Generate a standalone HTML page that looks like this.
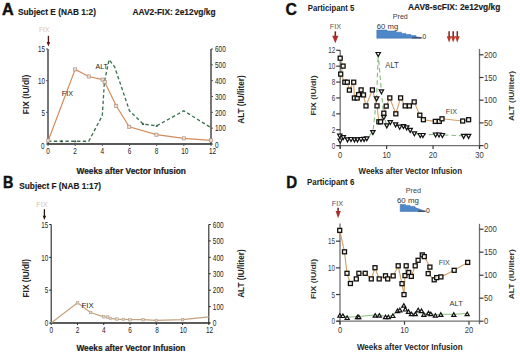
<!DOCTYPE html>
<html><head><meta charset="utf-8"><style>
html,body{margin:0;padding:0;background:#fff;width:520px;height:354px;overflow:hidden}
svg{display:block;font-family:"Liberation Sans", sans-serif}
</style></head><body>
<svg width="520" height="354" viewBox="0 0 520 354" font-family='"Liberation Sans", sans-serif'>
<rect width="520" height="354" fill="#fff"/>
<text x="2.1" y="14.6" font-size="16.5" font-weight="bold" fill="#111" text-anchor="start" textLength="11.7" lengthAdjust="spacingAndGlyphs" stroke="#111" stroke-width="0.5">A</text>
<text x="18" y="15.1" font-size="8.4" font-weight="bold" fill="#1a1a1a" text-anchor="start" textLength="78" lengthAdjust="spacingAndGlyphs" stroke="#1a1a1a" stroke-width="0.15">Subject E (NAB 1:2)</text>
<text x="132.5" y="15.2" font-size="8.4" font-weight="bold" fill="#1a1a1a" text-anchor="start" textLength="83" lengthAdjust="spacingAndGlyphs" stroke="#1a1a1a" stroke-width="0.15">AAV2-FIX: 2e12vg/kg</text>
<text x="39" y="31.9" font-size="6.3" font-weight="normal" fill="#e2bf9c" text-anchor="start" textLength="10.4" lengthAdjust="spacingAndGlyphs" >FIX</text>
<line x1="48.4" y1="35.8" x2="48.4" y2="44" stroke="#5a1018" stroke-width="1.3" />
<polygon points="46.6,42 50.2,42 48.4,46.6" fill="#6a1218"/>
<line x1="48" y1="49" x2="48" y2="144.5" stroke="#555" stroke-width="1.6" />
<line x1="211" y1="49" x2="211" y2="144.5" stroke="#555" stroke-width="1.6" />
<line x1="47.4" y1="144" x2="211.6" y2="144" stroke="#222" stroke-width="1.5" />
<line x1="46" y1="144.0" x2="48" y2="144.0" stroke="#555" stroke-width="1" />
<text x="44.6" y="148.6" font-size="8.3" font-weight="normal" fill="#1a1a1a" text-anchor="end" textLength="3.5" lengthAdjust="spacingAndGlyphs" >0</text>
<line x1="46" y1="112.33333333333333" x2="48" y2="112.33333333333333" stroke="#555" stroke-width="1" />
<text x="45" y="115.73333333333333" font-size="8.3" font-weight="normal" fill="#1a1a1a" text-anchor="end" textLength="3.5" lengthAdjust="spacingAndGlyphs" >5</text>
<line x1="46" y1="80.66666666666666" x2="48" y2="80.66666666666666" stroke="#555" stroke-width="1" />
<text x="45" y="84.06666666666666" font-size="8.3" font-weight="normal" fill="#1a1a1a" text-anchor="end" textLength="7.0" lengthAdjust="spacingAndGlyphs" >10</text>
<line x1="46" y1="49.0" x2="48" y2="49.0" stroke="#555" stroke-width="1" />
<text x="45" y="52.4" font-size="8.3" font-weight="normal" fill="#1a1a1a" text-anchor="end" textLength="7.0" lengthAdjust="spacingAndGlyphs" >15</text>
<line x1="211" y1="144.0" x2="213" y2="144.0" stroke="#555" stroke-width="1" />
<text x="215" y="148.29999999999998" font-size="8.200000000000001" font-weight="normal" fill="#1a1a1a" text-anchor="start" textLength="3.6" lengthAdjust="spacingAndGlyphs" >0</text>
<line x1="211" y1="128.16666666666666" x2="213" y2="128.16666666666666" stroke="#555" stroke-width="1" />
<text x="215" y="131.36666666666665" font-size="8.200000000000001" font-weight="normal" fill="#1a1a1a" text-anchor="start" textLength="10.8" lengthAdjust="spacingAndGlyphs" >100</text>
<line x1="211" y1="112.33333333333333" x2="213" y2="112.33333333333333" stroke="#555" stroke-width="1" />
<text x="215" y="115.53333333333333" font-size="8.200000000000001" font-weight="normal" fill="#1a1a1a" text-anchor="start" textLength="10.8" lengthAdjust="spacingAndGlyphs" >200</text>
<line x1="211" y1="96.5" x2="213" y2="96.5" stroke="#555" stroke-width="1" />
<text x="215" y="99.7" font-size="8.200000000000001" font-weight="normal" fill="#1a1a1a" text-anchor="start" textLength="10.8" lengthAdjust="spacingAndGlyphs" >300</text>
<line x1="211" y1="80.66666666666666" x2="213" y2="80.66666666666666" stroke="#555" stroke-width="1" />
<text x="215" y="83.86666666666666" font-size="8.200000000000001" font-weight="normal" fill="#1a1a1a" text-anchor="start" textLength="10.8" lengthAdjust="spacingAndGlyphs" >400</text>
<line x1="211" y1="64.83333333333333" x2="213" y2="64.83333333333333" stroke="#555" stroke-width="1" />
<text x="215" y="68.03333333333333" font-size="8.200000000000001" font-weight="normal" fill="#1a1a1a" text-anchor="start" textLength="10.8" lengthAdjust="spacingAndGlyphs" >500</text>
<line x1="211" y1="49.0" x2="213" y2="49.0" stroke="#555" stroke-width="1" />
<text x="215" y="52.2" font-size="8.200000000000001" font-weight="normal" fill="#1a1a1a" text-anchor="start" textLength="10.8" lengthAdjust="spacingAndGlyphs" >600</text>
<line x1="48.0" y1="144" x2="48.0" y2="146" stroke="#555" stroke-width="1" />
<text x="48.0" y="154.4" font-size="8.200000000000001" font-weight="normal" fill="#1a1a1a" text-anchor="middle" textLength="3.6" lengthAdjust="spacingAndGlyphs" >0</text>
<line x1="75.16666666666667" y1="144" x2="75.16666666666667" y2="146" stroke="#555" stroke-width="1" />
<text x="75.16666666666667" y="154.4" font-size="8.200000000000001" font-weight="normal" fill="#1a1a1a" text-anchor="middle" textLength="3.6" lengthAdjust="spacingAndGlyphs" >2</text>
<line x1="102.33333333333334" y1="144" x2="102.33333333333334" y2="146" stroke="#555" stroke-width="1" />
<text x="102.33333333333334" y="154.4" font-size="8.200000000000001" font-weight="normal" fill="#1a1a1a" text-anchor="middle" textLength="3.6" lengthAdjust="spacingAndGlyphs" >4</text>
<line x1="129.5" y1="144" x2="129.5" y2="146" stroke="#555" stroke-width="1" />
<text x="129.5" y="154.4" font-size="8.200000000000001" font-weight="normal" fill="#1a1a1a" text-anchor="middle" textLength="3.6" lengthAdjust="spacingAndGlyphs" >6</text>
<line x1="156.66666666666669" y1="144" x2="156.66666666666669" y2="146" stroke="#555" stroke-width="1" />
<text x="156.66666666666669" y="154.4" font-size="8.200000000000001" font-weight="normal" fill="#1a1a1a" text-anchor="middle" textLength="3.6" lengthAdjust="spacingAndGlyphs" >8</text>
<line x1="183.83333333333334" y1="144" x2="183.83333333333334" y2="146" stroke="#555" stroke-width="1" />
<text x="184.83333333333334" y="154.4" font-size="8.200000000000001" font-weight="normal" fill="#1a1a1a" text-anchor="middle" textLength="7.2" lengthAdjust="spacingAndGlyphs" >10</text>
<line x1="211.0" y1="144" x2="211.0" y2="146" stroke="#555" stroke-width="1" />
<text x="212.5" y="154.4" font-size="8.200000000000001" font-weight="normal" fill="#1a1a1a" text-anchor="middle" textLength="7.2" lengthAdjust="spacingAndGlyphs" >12</text>
<text x="76.4" y="174.3" font-size="8.8" font-weight="bold" fill="#1a1a1a" text-anchor="start" textLength="109.6" lengthAdjust="spacingAndGlyphs" stroke="#1a1a1a" stroke-width="0.2">Weeks after Vector Infusion</text>
<text transform="translate(28.5,94.5) rotate(-90)" font-size="8.3" font-weight="bold" fill="#222" text-anchor="middle" textLength="39.5" lengthAdjust="spacingAndGlyphs">FIX (IU/dl)</text>
<text transform="translate(244.2,99.5) rotate(-90)" font-size="8.3" font-weight="bold" fill="#222" text-anchor="middle" textLength="48.3" lengthAdjust="spacingAndGlyphs">ALT (IU/liter)</text>
<polyline points="48.0,141.2 61.6,141.2 75.2,141.2 88.8,141.2 102.3,115.5 104.4,81.9 109.1,59.6 114.7,67.0 129.5,110.8 143.1,124.0 156.7,125.8 183.8,110.8 211.0,127.7" fill="none" stroke="#3d7352" stroke-width="1.35" stroke-dasharray="3.4,2.4"/>
<polygon points="60.3,142.2 62.9,142.2 61.6,139.8" fill="#34503f"/>
<polygon points="73.9,142.2 76.5,142.2 75.2,139.8" fill="#34503f"/>
<polygon points="141.8,125.0 144.4,125.0 143.1,122.6" fill="#34503f"/>
<polygon points="155.4,126.8 158.0,126.8 156.7,124.4" fill="#34503f"/>
<polyline points="48.3,140.5 75.2,69.4 88.7,76.5 102.6,79.6 104.7,82.1 116.2,105.8 129.2,126.8 156.4,134.7 183.8,138.4 210.8,140.4" fill="none" stroke="#d48c5c" stroke-width="1.2" />
<rect x="46.7" y="138.9" width="3.2" height="3.2" fill="#eadbd2" stroke="#a88878" stroke-width="0.6"/>
<rect x="73.6" y="67.8" width="3.2" height="3.2" fill="#eadbd2" stroke="#a88878" stroke-width="0.6"/>
<rect x="87.1" y="74.9" width="3.2" height="3.2" fill="#eadbd2" stroke="#a88878" stroke-width="0.6"/>
<rect x="101.0" y="78.0" width="3.2" height="3.2" fill="#eadbd2" stroke="#a88878" stroke-width="0.6"/>
<rect x="103.1" y="80.5" width="3.2" height="3.2" fill="#eadbd2" stroke="#a88878" stroke-width="0.6"/>
<rect x="114.6" y="104.2" width="3.2" height="3.2" fill="#eadbd2" stroke="#a88878" stroke-width="0.6"/>
<rect x="127.6" y="125.2" width="3.2" height="3.2" fill="#eadbd2" stroke="#a88878" stroke-width="0.6"/>
<rect x="154.8" y="133.1" width="3.2" height="3.2" fill="#eadbd2" stroke="#a88878" stroke-width="0.6"/>
<rect x="182.2" y="136.8" width="3.2" height="3.2" fill="#eadbd2" stroke="#a88878" stroke-width="0.6"/>
<rect x="209.2" y="138.8" width="3.2" height="3.2" fill="#eadbd2" stroke="#a88878" stroke-width="0.6"/>
<text x="61.8" y="96" font-size="7" font-weight="normal" fill="#1a1a1a" text-anchor="start" textLength="11.2" lengthAdjust="spacingAndGlyphs" >FIX</text>
<text x="95.6" y="69.3" font-size="7.2" font-weight="normal" fill="#1a1a1a" text-anchor="start" textLength="12.3" lengthAdjust="spacingAndGlyphs" >ALT</text>
<text x="2.9" y="188.2" font-size="17" font-weight="bold" fill="#111" text-anchor="start" textLength="10.4" lengthAdjust="spacingAndGlyphs" stroke="#111" stroke-width="0.5">B</text>
<text x="19.3" y="189.4" font-size="8.4" font-weight="bold" fill="#1a1a1a" text-anchor="start" textLength="81.7" lengthAdjust="spacingAndGlyphs" stroke="#1a1a1a" stroke-width="0.15">Subject F (NAB 1:17)</text>
<text x="36.3" y="206.9" font-size="6.6" font-weight="normal" fill="#d2c6b2" text-anchor="start" textLength="11.5" lengthAdjust="spacingAndGlyphs" >FIX</text>
<line x1="44.4" y1="209.2" x2="44.4" y2="217" stroke="#2a1810" stroke-width="1.3" />
<polygon points="42.7,215.8 46.1,215.8 44.4,220" fill="#2a1810"/>
<line x1="51.2" y1="224.5" x2="51.2" y2="323.5" stroke="#262626" stroke-width="1.1" />
<line x1="208.8" y1="224.5" x2="208.8" y2="323.5" stroke="#262626" stroke-width="1.1" />
<line x1="50.6" y1="323" x2="209.4" y2="323" stroke="#262626" stroke-width="1.3" />
<line x1="49.2" y1="323.0" x2="51.2" y2="323.0" stroke="#262626" stroke-width="1" />
<text x="48.2" y="326.2" font-size="8.9" font-weight="normal" fill="#1a1a1a" text-anchor="end" textLength="3.5" lengthAdjust="spacingAndGlyphs" >0</text>
<line x1="49.2" y1="290.1666666666667" x2="51.2" y2="290.1666666666667" stroke="#262626" stroke-width="1" />
<text x="48.2" y="293.3666666666667" font-size="8.9" font-weight="normal" fill="#1a1a1a" text-anchor="end" textLength="3.5" lengthAdjust="spacingAndGlyphs" >5</text>
<line x1="49.2" y1="257.3333333333333" x2="51.2" y2="257.3333333333333" stroke="#262626" stroke-width="1" />
<text x="48.2" y="260.5333333333333" font-size="8.9" font-weight="normal" fill="#1a1a1a" text-anchor="end" textLength="7.0" lengthAdjust="spacingAndGlyphs" >10</text>
<line x1="49.2" y1="224.5" x2="51.2" y2="224.5" stroke="#262626" stroke-width="1" />
<text x="48.2" y="227.7" font-size="8.9" font-weight="normal" fill="#1a1a1a" text-anchor="end" textLength="7.0" lengthAdjust="spacingAndGlyphs" >15</text>
<line x1="208.8" y1="323.0" x2="210.8" y2="323.0" stroke="#262626" stroke-width="1" />
<text x="212.8" y="326.2" font-size="8.9" font-weight="normal" fill="#1a1a1a" text-anchor="start" textLength="3.6" lengthAdjust="spacingAndGlyphs" >0</text>
<line x1="208.8" y1="306.5833333333333" x2="210.8" y2="306.5833333333333" stroke="#262626" stroke-width="1" />
<text x="212.8" y="309.7833333333333" font-size="8.9" font-weight="normal" fill="#1a1a1a" text-anchor="start" textLength="10.8" lengthAdjust="spacingAndGlyphs" >100</text>
<line x1="208.8" y1="290.1666666666667" x2="210.8" y2="290.1666666666667" stroke="#262626" stroke-width="1" />
<text x="212.8" y="293.3666666666667" font-size="8.9" font-weight="normal" fill="#1a1a1a" text-anchor="start" textLength="10.8" lengthAdjust="spacingAndGlyphs" >200</text>
<line x1="208.8" y1="273.75" x2="210.8" y2="273.75" stroke="#262626" stroke-width="1" />
<text x="212.8" y="276.95" font-size="8.9" font-weight="normal" fill="#1a1a1a" text-anchor="start" textLength="10.8" lengthAdjust="spacingAndGlyphs" >300</text>
<line x1="208.8" y1="257.3333333333333" x2="210.8" y2="257.3333333333333" stroke="#262626" stroke-width="1" />
<text x="212.8" y="260.5333333333333" font-size="8.9" font-weight="normal" fill="#1a1a1a" text-anchor="start" textLength="10.8" lengthAdjust="spacingAndGlyphs" >400</text>
<line x1="208.8" y1="240.91666666666669" x2="210.8" y2="240.91666666666669" stroke="#262626" stroke-width="1" />
<text x="212.8" y="244.11666666666667" font-size="8.9" font-weight="normal" fill="#1a1a1a" text-anchor="start" textLength="10.8" lengthAdjust="spacingAndGlyphs" >500</text>
<line x1="208.8" y1="224.5" x2="210.8" y2="224.5" stroke="#262626" stroke-width="1" />
<text x="212.8" y="227.7" font-size="8.9" font-weight="normal" fill="#1a1a1a" text-anchor="start" textLength="10.8" lengthAdjust="spacingAndGlyphs" >600</text>
<line x1="51.2" y1="323" x2="51.2" y2="325" stroke="#262626" stroke-width="1" />
<text x="51.2" y="333.4" font-size="8.9" font-weight="normal" fill="#1a1a1a" text-anchor="middle" textLength="3.6" lengthAdjust="spacingAndGlyphs" >0</text>
<line x1="77.46666666666667" y1="323" x2="77.46666666666667" y2="325" stroke="#262626" stroke-width="1" />
<text x="77.46666666666667" y="333.4" font-size="8.9" font-weight="normal" fill="#1a1a1a" text-anchor="middle" textLength="3.6" lengthAdjust="spacingAndGlyphs" >2</text>
<line x1="103.73333333333335" y1="323" x2="103.73333333333335" y2="325" stroke="#262626" stroke-width="1" />
<text x="103.73333333333335" y="333.4" font-size="8.9" font-weight="normal" fill="#1a1a1a" text-anchor="middle" textLength="3.6" lengthAdjust="spacingAndGlyphs" >4</text>
<line x1="130.0" y1="323" x2="130.0" y2="325" stroke="#262626" stroke-width="1" />
<text x="130.0" y="333.4" font-size="8.9" font-weight="normal" fill="#1a1a1a" text-anchor="middle" textLength="3.6" lengthAdjust="spacingAndGlyphs" >6</text>
<line x1="156.26666666666668" y1="323" x2="156.26666666666668" y2="325" stroke="#262626" stroke-width="1" />
<text x="157.0666666666667" y="333.4" font-size="8.9" font-weight="normal" fill="#1a1a1a" text-anchor="middle" textLength="3.6" lengthAdjust="spacingAndGlyphs" >8</text>
<line x1="182.53333333333336" y1="323" x2="182.53333333333336" y2="325" stroke="#262626" stroke-width="1" />
<text x="183.33333333333337" y="333.4" font-size="8.9" font-weight="normal" fill="#1a1a1a" text-anchor="middle" textLength="7.2" lengthAdjust="spacingAndGlyphs" >10</text>
<line x1="208.8" y1="323" x2="208.8" y2="325" stroke="#262626" stroke-width="1" />
<text x="209.60000000000002" y="333.4" font-size="8.9" font-weight="normal" fill="#1a1a1a" text-anchor="middle" textLength="7.2" lengthAdjust="spacingAndGlyphs" >12</text>
<text x="76.4" y="350.6" font-size="8.6" font-weight="bold" fill="#1a1a1a" text-anchor="start" textLength="109" lengthAdjust="spacingAndGlyphs" stroke="#1a1a1a" stroke-width="0.2">Weeks after Vector Infusion</text>
<text transform="translate(28.7,278.2) rotate(-90)" font-size="8.3" font-weight="bold" fill="#222" text-anchor="middle" textLength="38.5" lengthAdjust="spacingAndGlyphs">FIX (IU/dl)</text>
<text transform="translate(244.0,273.6) rotate(-90)" font-size="8.3" font-weight="bold" fill="#222" text-anchor="middle" textLength="48.4" lengthAdjust="spacingAndGlyphs">ALT (IU/liter)</text>
<polyline points="51.2,323.0 77.5,302.8 90.6,312.5 103.7,316.8 107.7,317.1 110.3,318.4 116.9,319.1 123.4,319.4 130.0,319.7 143.1,319.7 156.3,320.4 182.5,319.7 208.8,316.8" fill="none" stroke="#c4a27e" stroke-width="1.2" />
<rect x="76.2" y="301.5" width="2.6" height="2.6" fill="#e2d6ca" stroke="#ac9682" stroke-width="0.5"/>
<rect x="89.3" y="311.2" width="2.6" height="2.6" fill="#e2d6ca" stroke="#ac9682" stroke-width="0.5"/>
<rect x="102.4" y="315.5" width="2.6" height="2.6" fill="#e2d6ca" stroke="#ac9682" stroke-width="0.5"/>
<rect x="106.4" y="315.8" width="2.6" height="2.6" fill="#e2d6ca" stroke="#ac9682" stroke-width="0.5"/>
<rect x="109.0" y="317.1" width="2.6" height="2.6" fill="#e2d6ca" stroke="#ac9682" stroke-width="0.5"/>
<rect x="115.6" y="317.8" width="2.6" height="2.6" fill="#e2d6ca" stroke="#ac9682" stroke-width="0.5"/>
<rect x="122.1" y="318.1" width="2.6" height="2.6" fill="#e2d6ca" stroke="#ac9682" stroke-width="0.5"/>
<rect x="128.7" y="318.4" width="2.6" height="2.6" fill="#e2d6ca" stroke="#ac9682" stroke-width="0.5"/>
<rect x="141.8" y="318.4" width="2.6" height="2.6" fill="#e2d6ca" stroke="#ac9682" stroke-width="0.5"/>
<rect x="155.0" y="319.1" width="2.6" height="2.6" fill="#e2d6ca" stroke="#ac9682" stroke-width="0.5"/>
<rect x="181.2" y="318.4" width="2.6" height="2.6" fill="#e2d6ca" stroke="#ac9682" stroke-width="0.5"/>
<text x="81.6" y="307.9" font-size="7.1" font-weight="normal" fill="#1a1a1a" text-anchor="start" textLength="12.1" lengthAdjust="spacingAndGlyphs" >FIX</text>
<text x="285.6" y="14.6" font-size="16.8" font-weight="bold" fill="#111" text-anchor="start" textLength="11.4" lengthAdjust="spacingAndGlyphs" stroke="#111" stroke-width="0.4">C</text>
<text x="307.8" y="10.9" font-size="8.6" font-weight="bold" fill="#1a1a1a" text-anchor="start" textLength="46.4" lengthAdjust="spacingAndGlyphs" >Participant 5</text>
<text x="408.1" y="10.4" font-size="8.4" font-weight="bold" fill="#1a1a1a" text-anchor="start" textLength="92.2" lengthAdjust="spacingAndGlyphs" stroke="#1a1a1a" stroke-width="0.15">AAV8-scFIX: 2e12vg/kg</text>
<text x="329.7" y="28.8" font-size="7.2" font-weight="normal" fill="#5a5a5a" text-anchor="start" textLength="11.4" lengthAdjust="spacingAndGlyphs" >FIX</text>
<line x1="335.3" y1="31.4" x2="335.3" y2="37" stroke="#7a2020" stroke-width="1.6" />
<polygon points="332.2,35.8 338.4,35.8 335.3,43.3" fill="#b03028"/>
<text x="392.8" y="19" font-size="7.4" font-weight="normal" fill="#3a3a3a" text-anchor="start" textLength="15" lengthAdjust="spacingAndGlyphs" >Pred</text>
<text x="376.8" y="28.8" font-size="7.6" font-weight="normal" fill="#333" text-anchor="start" textLength="21.5" lengthAdjust="spacingAndGlyphs" >60 mg</text>
<polygon points="376.8,30 387,30 387,31 396,31 396,32.2 401.4,32.2 401.4,33.4 406,33.4 406,34.5 411,34.5 411,35.6 416,35.6 416,36.8 421,37.6 421,38.2 376.8,38.2" fill="#4f88c8" stroke="#3a6aa8" stroke-width="0.5"/>
<line x1="412" y1="37.9" x2="422.5" y2="37.9" stroke="#223" stroke-width="0.8" />
<text x="422.6" y="38.6" font-size="7" font-weight="normal" fill="#222" text-anchor="start" textLength="3.6" lengthAdjust="spacingAndGlyphs" >0</text>
<line x1="449.1" y1="31.2" x2="449.1" y2="38" stroke="#7a2020" stroke-width="1.5" />
<line x1="453.2" y1="31.2" x2="453.2" y2="38" stroke="#7a2020" stroke-width="1.5" />
<line x1="457.3" y1="31.2" x2="457.3" y2="38" stroke="#7a2020" stroke-width="1.5" />
<polygon points="446.7,36.2 451.5,36.2 449.1,42.6" fill="#bb3a2e"/>
<polygon points="450.8,36.2 455.6,36.2 453.2,42.6" fill="#bb3a2e"/>
<polygon points="454.9,36.2 459.7,36.2 457.3,42.6" fill="#bb3a2e"/>
<line x1="340.2" y1="50.3" x2="340.2" y2="148.6" stroke="#707070" stroke-width="1.3" />
<line x1="337.2" y1="145.6" x2="479.5" y2="145.6" stroke="#707070" stroke-width="1.3" />
<line x1="479.5" y1="48.9" x2="479.5" y2="148.6" stroke="#707070" stroke-width="1.3" />
<line x1="336.2" y1="145.6" x2="340.2" y2="145.6" stroke="#383838" stroke-width="1.2" />
<text x="335.3" y="148.6" font-size="8.7" font-weight="normal" fill="#383838" text-anchor="end" textLength="3.5" lengthAdjust="spacingAndGlyphs" >0</text>
<line x1="336.2" y1="129.71666666666667" x2="340.2" y2="129.71666666666667" stroke="#383838" stroke-width="1.2" />
<text x="335.3" y="132.71666666666667" font-size="8.7" font-weight="normal" fill="#383838" text-anchor="end" textLength="3.5" lengthAdjust="spacingAndGlyphs" >2</text>
<line x1="336.2" y1="113.83333333333333" x2="340.2" y2="113.83333333333333" stroke="#383838" stroke-width="1.2" />
<text x="335.3" y="116.83333333333333" font-size="8.7" font-weight="normal" fill="#383838" text-anchor="end" textLength="3.5" lengthAdjust="spacingAndGlyphs" >4</text>
<line x1="336.2" y1="97.94999999999999" x2="340.2" y2="97.94999999999999" stroke="#383838" stroke-width="1.2" />
<text x="335.3" y="100.94999999999999" font-size="8.7" font-weight="normal" fill="#383838" text-anchor="end" textLength="3.5" lengthAdjust="spacingAndGlyphs" >6</text>
<line x1="336.2" y1="82.06666666666666" x2="340.2" y2="82.06666666666666" stroke="#383838" stroke-width="1.2" />
<text x="335.3" y="85.06666666666666" font-size="8.7" font-weight="normal" fill="#383838" text-anchor="end" textLength="3.5" lengthAdjust="spacingAndGlyphs" >8</text>
<line x1="336.2" y1="66.18333333333332" x2="340.2" y2="66.18333333333332" stroke="#383838" stroke-width="1.2" />
<text x="335.3" y="69.18333333333332" font-size="8.7" font-weight="normal" fill="#383838" text-anchor="end" textLength="7.0" lengthAdjust="spacingAndGlyphs" >10</text>
<line x1="336.2" y1="50.3" x2="340.2" y2="50.3" stroke="#383838" stroke-width="1.2" />
<text x="335.3" y="53.3" font-size="8.7" font-weight="normal" fill="#383838" text-anchor="end" textLength="7.0" lengthAdjust="spacingAndGlyphs" >12</text>
<line x1="479.5" y1="145.6" x2="483.5" y2="145.6" stroke="#383838" stroke-width="1.2" />
<text x="484.0" y="148.6" font-size="8.4" font-weight="normal" fill="#383838" text-anchor="start" textLength="4.3" lengthAdjust="spacingAndGlyphs" >0</text>
<line x1="479.5" y1="122.89999999999999" x2="483.5" y2="122.89999999999999" stroke="#383838" stroke-width="1.2" />
<text x="484.0" y="125.89999999999999" font-size="8.4" font-weight="normal" fill="#383838" text-anchor="start" textLength="8.6" lengthAdjust="spacingAndGlyphs" >50</text>
<line x1="479.5" y1="100.19999999999999" x2="483.5" y2="100.19999999999999" stroke="#383838" stroke-width="1.2" />
<text x="484.0" y="103.19999999999999" font-size="8.4" font-weight="normal" fill="#383838" text-anchor="start" textLength="12.899999999999999" lengthAdjust="spacingAndGlyphs" >100</text>
<line x1="479.5" y1="77.5" x2="483.5" y2="77.5" stroke="#383838" stroke-width="1.2" />
<text x="484.0" y="80.5" font-size="8.4" font-weight="normal" fill="#383838" text-anchor="start" textLength="12.899999999999999" lengthAdjust="spacingAndGlyphs" >150</text>
<line x1="479.5" y1="54.8" x2="483.5" y2="54.8" stroke="#383838" stroke-width="1.2" />
<text x="484.0" y="57.8" font-size="8.4" font-weight="normal" fill="#383838" text-anchor="start" textLength="12.899999999999999" lengthAdjust="spacingAndGlyphs" >200</text>
<line x1="340.2" y1="145.6" x2="340.2" y2="149.1" stroke="#383838" stroke-width="1.2" />
<text x="340.2" y="157.79999999999998" font-size="8.2" font-weight="normal" fill="#383838" text-anchor="middle" textLength="4.2" lengthAdjust="spacingAndGlyphs" >0</text>
<line x1="386.6333333333333" y1="145.6" x2="386.6333333333333" y2="149.1" stroke="#383838" stroke-width="1.2" />
<text x="386.6333333333333" y="157.79999999999998" font-size="8.2" font-weight="normal" fill="#383838" text-anchor="middle" textLength="8.4" lengthAdjust="spacingAndGlyphs" >10</text>
<line x1="433.06666666666666" y1="145.6" x2="433.06666666666666" y2="149.1" stroke="#383838" stroke-width="1.2" />
<text x="433.06666666666666" y="157.79999999999998" font-size="8.2" font-weight="normal" fill="#383838" text-anchor="middle" textLength="8.4" lengthAdjust="spacingAndGlyphs" >20</text>
<line x1="479.5" y1="145.6" x2="479.5" y2="149.1" stroke="#383838" stroke-width="1.2" />
<text x="479.5" y="157.79999999999998" font-size="8.2" font-weight="normal" fill="#383838" text-anchor="middle" textLength="8.4" lengthAdjust="spacingAndGlyphs" >30</text>
<text x="358.6" y="173.9" font-size="8.8" font-weight="bold" fill="#262626" text-anchor="start" textLength="103.4" lengthAdjust="spacingAndGlyphs" >Weeks after Vector Infusion</text>
<text transform="translate(316,95.5) rotate(-90)" font-size="7.8" font-weight="bold" fill="#333" text-anchor="middle" textLength="40" lengthAdjust="spacingAndGlyphs">FIX (IU/dl)</text>
<text transform="translate(514,96) rotate(-90)" font-size="7.8" font-weight="bold" fill="#333" text-anchor="middle" textLength="50" lengthAdjust="spacingAndGlyphs">ALT (IU/liter)</text>
<polyline points="339.8,135.5 340.2,140.4 343.3,137.0 347.5,139.3 351.0,138.9 354.5,139.3 357.5,139.3 361.0,138.9 364.1,138.8 366.8,138.2 372.9,132.0 376.6,98.3 378.2,53.9 381.4,91.2 383.8,117.0 386.8,125.3 390.3,122.0 395.6,124.3 399.7,126.6 403.5,126.0 406.7,127.3 410.2,129.8 414.4,133.2 420.3,134.9 422.9,134.9 435.6,134.4 439.0,134.4 442.4,134.9 463.6,135.8 468.6,135.8" fill="none" stroke="#80bb78" stroke-width="1.1" stroke-dasharray="4.5,3"/>
<polyline points="340.2,58.2 343.1,66.1 340.7,74.1 344.8,82.2 347.3,82.2 349.4,90.1 353.7,82.2 354.4,98.0 357.2,98.0 358.6,94.6 361.1,89.9 363.5,94.9 366.0,105.9 372.4,89.9 377.0,105.9 378.9,121.8 380.6,121.8 383.8,113.2 386.2,106.1 389.8,97.9 395.8,113.8 400.6,97.9 405.2,105.9 409.4,105.9 414.2,101.9 419.8,115.2 423.4,119.7 435.3,121.4 439.3,121.4 442.0,118.8 462.7,121.0 468.6,119.7" fill="none" stroke="#d2a064" stroke-width="1.1" />
<polygon points="337.6,134.1 342.0,134.1 339.8,138.1" fill="#fff" stroke="#111" stroke-width="1.2"/>
<polygon points="338.0,139.0 342.4,139.0 340.2,143.0" fill="#fff" stroke="#111" stroke-width="1.2"/>
<polygon points="341.1,135.6 345.5,135.6 343.3,139.6" fill="#fff" stroke="#111" stroke-width="1.2"/>
<polygon points="345.3,137.9 349.7,137.9 347.5,141.9" fill="#fff" stroke="#111" stroke-width="1.2"/>
<polygon points="348.8,137.5 353.2,137.5 351.0,141.5" fill="#fff" stroke="#111" stroke-width="1.2"/>
<polygon points="352.3,137.9 356.7,137.9 354.5,141.9" fill="#fff" stroke="#111" stroke-width="1.2"/>
<polygon points="355.3,137.9 359.7,137.9 357.5,141.9" fill="#fff" stroke="#111" stroke-width="1.2"/>
<polygon points="358.8,137.5 363.2,137.5 361.0,141.5" fill="#fff" stroke="#111" stroke-width="1.2"/>
<polygon points="361.9,137.4 366.3,137.4 364.1,141.4" fill="#fff" stroke="#111" stroke-width="1.2"/>
<polygon points="364.6,136.8 369.0,136.8 366.8,140.8" fill="#fff" stroke="#111" stroke-width="1.2"/>
<polygon points="370.7,130.6 375.1,130.6 372.9,134.6" fill="#fff" stroke="#111" stroke-width="1.2"/>
<polygon points="374.4,96.9 378.8,96.9 376.6,100.9" fill="#fff" stroke="#111" stroke-width="1.2"/>
<polygon points="376.0,52.5 380.4,52.5 378.2,56.5" fill="#fff" stroke="#111" stroke-width="1.2"/>
<polygon points="379.2,89.8 383.6,89.8 381.4,93.8" fill="#fff" stroke="#111" stroke-width="1.2"/>
<polygon points="381.6,115.6 386.0,115.6 383.8,119.6" fill="#fff" stroke="#111" stroke-width="1.2"/>
<polygon points="384.6,123.9 389.0,123.9 386.8,127.9" fill="#fff" stroke="#111" stroke-width="1.2"/>
<polygon points="388.1,120.6 392.5,120.6 390.3,124.6" fill="#fff" stroke="#111" stroke-width="1.2"/>
<polygon points="393.4,122.9 397.8,122.9 395.6,126.9" fill="#fff" stroke="#111" stroke-width="1.2"/>
<polygon points="397.5,125.2 401.9,125.2 399.7,129.2" fill="#fff" stroke="#111" stroke-width="1.2"/>
<polygon points="401.3,124.6 405.7,124.6 403.5,128.6" fill="#fff" stroke="#111" stroke-width="1.2"/>
<polygon points="404.5,125.9 408.9,125.9 406.7,129.9" fill="#fff" stroke="#111" stroke-width="1.2"/>
<polygon points="408.0,128.4 412.4,128.4 410.2,132.4" fill="#fff" stroke="#111" stroke-width="1.2"/>
<polygon points="412.2,131.8 416.6,131.8 414.4,135.8" fill="#fff" stroke="#111" stroke-width="1.2"/>
<polygon points="418.1,133.5 422.5,133.5 420.3,137.5" fill="#fff" stroke="#111" stroke-width="1.2"/>
<polygon points="420.7,133.5 425.1,133.5 422.9,137.5" fill="#fff" stroke="#111" stroke-width="1.2"/>
<polygon points="433.4,133.0 437.8,133.0 435.6,137.0" fill="#fff" stroke="#111" stroke-width="1.2"/>
<polygon points="436.8,133.0 441.2,133.0 439.0,137.0" fill="#fff" stroke="#111" stroke-width="1.2"/>
<polygon points="440.2,133.5 444.6,133.5 442.4,137.5" fill="#fff" stroke="#111" stroke-width="1.2"/>
<polygon points="461.4,134.4 465.8,134.4 463.6,138.4" fill="#fff" stroke="#111" stroke-width="1.2"/>
<polygon points="466.4,134.4 470.8,134.4 468.6,138.4" fill="#fff" stroke="#111" stroke-width="1.2"/>
<rect x="338.2" y="56.2" width="4.0" height="4.0" fill="#f6f0e6" stroke="#111" stroke-width="1.3"/>
<rect x="341.1" y="64.1" width="4.0" height="4.0" fill="#f6f0e6" stroke="#111" stroke-width="1.3"/>
<rect x="338.7" y="72.1" width="4.0" height="4.0" fill="#f6f0e6" stroke="#111" stroke-width="1.3"/>
<rect x="342.8" y="80.2" width="4.0" height="4.0" fill="#f6f0e6" stroke="#111" stroke-width="1.3"/>
<rect x="345.3" y="80.2" width="4.0" height="4.0" fill="#f6f0e6" stroke="#111" stroke-width="1.3"/>
<rect x="347.4" y="88.1" width="4.0" height="4.0" fill="#f6f0e6" stroke="#111" stroke-width="1.3"/>
<rect x="351.7" y="80.2" width="4.0" height="4.0" fill="#f6f0e6" stroke="#111" stroke-width="1.3"/>
<rect x="352.4" y="96.0" width="4.0" height="4.0" fill="#f6f0e6" stroke="#111" stroke-width="1.3"/>
<rect x="355.2" y="96.0" width="4.0" height="4.0" fill="#f6f0e6" stroke="#111" stroke-width="1.3"/>
<rect x="356.6" y="92.6" width="4.0" height="4.0" fill="#f6f0e6" stroke="#111" stroke-width="1.3"/>
<rect x="359.1" y="87.9" width="4.0" height="4.0" fill="#f6f0e6" stroke="#111" stroke-width="1.3"/>
<rect x="361.5" y="92.9" width="4.0" height="4.0" fill="#f6f0e6" stroke="#111" stroke-width="1.3"/>
<rect x="364.0" y="103.9" width="4.0" height="4.0" fill="#f6f0e6" stroke="#111" stroke-width="1.3"/>
<rect x="370.4" y="87.9" width="4.0" height="4.0" fill="#f6f0e6" stroke="#111" stroke-width="1.3"/>
<rect x="375.0" y="103.9" width="4.0" height="4.0" fill="#f6f0e6" stroke="#111" stroke-width="1.3"/>
<rect x="376.9" y="119.8" width="4.0" height="4.0" fill="#f6f0e6" stroke="#111" stroke-width="1.3"/>
<rect x="378.6" y="119.8" width="4.0" height="4.0" fill="#f6f0e6" stroke="#111" stroke-width="1.3"/>
<rect x="381.8" y="111.2" width="4.0" height="4.0" fill="#f6f0e6" stroke="#111" stroke-width="1.3"/>
<rect x="384.2" y="104.1" width="4.0" height="4.0" fill="#f6f0e6" stroke="#111" stroke-width="1.3"/>
<rect x="387.8" y="95.9" width="4.0" height="4.0" fill="#f6f0e6" stroke="#111" stroke-width="1.3"/>
<rect x="393.8" y="111.8" width="4.0" height="4.0" fill="#f6f0e6" stroke="#111" stroke-width="1.3"/>
<rect x="398.6" y="95.9" width="4.0" height="4.0" fill="#f6f0e6" stroke="#111" stroke-width="1.3"/>
<rect x="403.2" y="103.9" width="4.0" height="4.0" fill="#f6f0e6" stroke="#111" stroke-width="1.3"/>
<rect x="407.4" y="103.9" width="4.0" height="4.0" fill="#f6f0e6" stroke="#111" stroke-width="1.3"/>
<rect x="412.2" y="99.9" width="4.0" height="4.0" fill="#f6f0e6" stroke="#111" stroke-width="1.3"/>
<rect x="417.8" y="113.2" width="4.0" height="4.0" fill="#f6f0e6" stroke="#111" stroke-width="1.3"/>
<rect x="421.4" y="117.7" width="4.0" height="4.0" fill="#f6f0e6" stroke="#111" stroke-width="1.3"/>
<rect x="433.3" y="119.4" width="4.0" height="4.0" fill="#f6f0e6" stroke="#111" stroke-width="1.3"/>
<rect x="437.3" y="119.4" width="4.0" height="4.0" fill="#f6f0e6" stroke="#111" stroke-width="1.3"/>
<rect x="440.0" y="116.8" width="4.0" height="4.0" fill="#f6f0e6" stroke="#111" stroke-width="1.3"/>
<rect x="460.7" y="119.0" width="4.0" height="4.0" fill="#f6f0e6" stroke="#111" stroke-width="1.3"/>
<rect x="466.6" y="117.7" width="4.0" height="4.0" fill="#f6f0e6" stroke="#111" stroke-width="1.3"/>
<text x="385.3" y="67.6" font-size="8.2" font-weight="normal" fill="#3a3a3a" text-anchor="start" textLength="13.5" lengthAdjust="spacingAndGlyphs" >ALT</text>
<text x="445.8" y="113.7" font-size="8" font-weight="normal" fill="#444" text-anchor="start" textLength="11.2" lengthAdjust="spacingAndGlyphs" >FIX</text>
<text x="286.2" y="188.2" font-size="16.8" font-weight="bold" fill="#111" text-anchor="start" textLength="10.9" lengthAdjust="spacingAndGlyphs" stroke="#111" stroke-width="0.4">D</text>
<text x="307" y="185" font-size="8.4" font-weight="bold" fill="#1a1a1a" text-anchor="start" textLength="47.3" lengthAdjust="spacingAndGlyphs" >Participant 6</text>
<text x="331.8" y="206" font-size="7.2" font-weight="normal" fill="#55506a" text-anchor="start" textLength="11.4" lengthAdjust="spacingAndGlyphs" >FIX</text>
<line x1="338.1" y1="207.7" x2="338.1" y2="212.5" stroke="#6a1c1c" stroke-width="1.5" />
<polygon points="335.6,211.1 340.8,211.1 338.1,218.3" fill="#b02e28"/>
<text x="405.8" y="192.8" font-size="7" font-weight="normal" fill="#444" text-anchor="start" textLength="15.3" lengthAdjust="spacingAndGlyphs" >Pred</text>
<text x="397" y="203.3" font-size="7" font-weight="normal" fill="#333" text-anchor="start" textLength="21.8" lengthAdjust="spacingAndGlyphs" >60 mg</text>
<polygon points="400.2,204.6 405.5,204.6 405.5,205.4 410,205.4 410,206.4 415,206.4 415,207.6 420,209.3 425,211.2 425,211.5 400.2,211.5" fill="#4f88c8" stroke="#3a6aa8" stroke-width="0.5"/>
<line x1="418" y1="211.2" x2="426" y2="211.2" stroke="#222" stroke-width="0.8" />
<text x="426" y="213.4" font-size="7" font-weight="normal" fill="#222" text-anchor="start" textLength="3.8" lengthAdjust="spacingAndGlyphs" >0</text>
<line x1="340" y1="223.5" x2="340" y2="324.2" stroke="#707070" stroke-width="1.3" />
<line x1="337" y1="321.2" x2="479.5" y2="321.2" stroke="#707070" stroke-width="1.3" />
<line x1="479.5" y1="223.8" x2="479.5" y2="324.2" stroke="#707070" stroke-width="1.3" />
<line x1="336" y1="321.2" x2="340" y2="321.2" stroke="#383838" stroke-width="1.2" />
<text x="335.1" y="324.2" font-size="8.7" font-weight="normal" fill="#383838" text-anchor="end" textLength="3.5" lengthAdjust="spacingAndGlyphs" >0</text>
<line x1="336" y1="294.5333333333333" x2="340" y2="294.5333333333333" stroke="#383838" stroke-width="1.2" />
<text x="335.1" y="297.5333333333333" font-size="8.7" font-weight="normal" fill="#383838" text-anchor="end" textLength="3.5" lengthAdjust="spacingAndGlyphs" >5</text>
<line x1="336" y1="267.8666666666667" x2="340" y2="267.8666666666667" stroke="#383838" stroke-width="1.2" />
<text x="335.1" y="270.8666666666667" font-size="8.7" font-weight="normal" fill="#383838" text-anchor="end" textLength="7.0" lengthAdjust="spacingAndGlyphs" >10</text>
<line x1="336" y1="241.2" x2="340" y2="241.2" stroke="#383838" stroke-width="1.2" />
<text x="335.1" y="244.2" font-size="8.7" font-weight="normal" fill="#383838" text-anchor="end" textLength="7.0" lengthAdjust="spacingAndGlyphs" >15</text>
<line x1="479.5" y1="321.2" x2="483.5" y2="321.2" stroke="#383838" stroke-width="1.2" />
<text x="484.0" y="324.2" font-size="8.4" font-weight="normal" fill="#383838" text-anchor="start" textLength="4.3" lengthAdjust="spacingAndGlyphs" >0</text>
<line x1="479.5" y1="298.2" x2="483.5" y2="298.2" stroke="#383838" stroke-width="1.2" />
<text x="484.0" y="301.2" font-size="8.4" font-weight="normal" fill="#383838" text-anchor="start" textLength="8.6" lengthAdjust="spacingAndGlyphs" >50</text>
<line x1="479.5" y1="275.2" x2="483.5" y2="275.2" stroke="#383838" stroke-width="1.2" />
<text x="484.0" y="278.2" font-size="8.4" font-weight="normal" fill="#383838" text-anchor="start" textLength="12.899999999999999" lengthAdjust="spacingAndGlyphs" >100</text>
<line x1="479.5" y1="252.2" x2="483.5" y2="252.2" stroke="#383838" stroke-width="1.2" />
<text x="484.0" y="255.2" font-size="8.4" font-weight="normal" fill="#383838" text-anchor="start" textLength="12.899999999999999" lengthAdjust="spacingAndGlyphs" >150</text>
<line x1="479.5" y1="229.2" x2="483.5" y2="229.2" stroke="#383838" stroke-width="1.2" />
<text x="484.0" y="232.2" font-size="8.4" font-weight="normal" fill="#383838" text-anchor="start" textLength="12.899999999999999" lengthAdjust="spacingAndGlyphs" >200</text>
<line x1="340.0" y1="321.2" x2="340.0" y2="324.7" stroke="#383838" stroke-width="1.2" />
<text x="340.0" y="333.4" font-size="8.2" font-weight="normal" fill="#383838" text-anchor="middle" textLength="4.2" lengthAdjust="spacingAndGlyphs" >0</text>
<line x1="404.5" y1="321.2" x2="404.5" y2="324.7" stroke="#383838" stroke-width="1.2" />
<text x="404.5" y="333.4" font-size="8.2" font-weight="normal" fill="#383838" text-anchor="middle" textLength="8.4" lengthAdjust="spacingAndGlyphs" >10</text>
<line x1="469.0" y1="321.2" x2="469.0" y2="324.7" stroke="#383838" stroke-width="1.2" />
<text x="469.0" y="333.4" font-size="8.2" font-weight="normal" fill="#383838" text-anchor="middle" textLength="8.4" lengthAdjust="spacingAndGlyphs" >20</text>
<text x="356.9" y="350.3" font-size="8.8" font-weight="bold" fill="#262626" text-anchor="start" textLength="105.8" lengthAdjust="spacingAndGlyphs" >Weeks after Vector Infusion</text>
<text transform="translate(316,279) rotate(-90)" font-size="7.8" font-weight="bold" fill="#333" text-anchor="middle" textLength="40" lengthAdjust="spacingAndGlyphs">FIX (IU/dl)</text>
<text transform="translate(514,274.3) rotate(-90)" font-size="7.8" font-weight="bold" fill="#333" text-anchor="middle" textLength="50" lengthAdjust="spacingAndGlyphs">ALT (IU/liter)</text>
<polyline points="339.8,315.0 342.9,315.3 347.1,317.3 357.5,316.5 358.8,316.5 375.2,315.0 379.4,315.0 385.5,316.5 388.3,316.5 392.9,315.3 397.5,310.4 399.8,309.6 403.8,305.0 405.4,308.8 408.5,311.2 411.5,313.5 415.4,313.5 418.2,309.6 421.5,310.4 423.8,314.2 428.5,312.7 430.8,313.5 435.4,315.0 440.8,314.2 453.8,314.2 467.2,313.5" fill="none" stroke="#88c07c" stroke-width="1.1" />
<polyline points="339.7,230.4 344.5,251.8 347.0,273.3 350.4,283.5 356.3,278.9 358.9,273.3 365.2,273.3 371.3,278.9 375.0,267.7 379.2,278.9 385.5,275.8 387.7,278.9 393.2,275.9 398.2,265.8 402.0,283.7 404.0,294.6 405.0,275.6 406.2,265.8 408.7,272.5 411.3,276.4 415.2,265.8 418.1,260.3 422.3,254.9 424.3,256.6 429.9,267.1 428.2,273.6 434.2,279.8 436.7,277.6 440.9,276.9 454.2,270.3 467.7,262.4" fill="none" stroke="#d2a064" stroke-width="1.1" />
<polygon points="337.8,317.2 341.9,317.2 339.8,313.6" fill="#fff" stroke="#111" stroke-width="1.2"/>
<polygon points="340.8,317.5 344.9,317.5 342.9,313.9" fill="#fff" stroke="#111" stroke-width="1.2"/>
<polygon points="345.1,319.5 349.2,319.5 347.1,315.9" fill="#fff" stroke="#111" stroke-width="1.2"/>
<polygon points="355.4,318.7 359.6,318.7 357.5,315.1" fill="#fff" stroke="#111" stroke-width="1.2"/>
<polygon points="356.8,318.7 360.9,318.7 358.8,315.1" fill="#fff" stroke="#111" stroke-width="1.2"/>
<polygon points="373.1,317.2 377.2,317.2 375.2,313.6" fill="#fff" stroke="#111" stroke-width="1.2"/>
<polygon points="377.3,317.2 381.4,317.2 379.4,313.6" fill="#fff" stroke="#111" stroke-width="1.2"/>
<polygon points="383.4,318.7 387.6,318.7 385.5,315.1" fill="#fff" stroke="#111" stroke-width="1.2"/>
<polygon points="386.2,318.7 390.4,318.7 388.3,315.1" fill="#fff" stroke="#111" stroke-width="1.2"/>
<polygon points="390.8,317.5 394.9,317.5 392.9,313.9" fill="#fff" stroke="#111" stroke-width="1.2"/>
<polygon points="395.4,312.6 399.6,312.6 397.5,309.0" fill="#fff" stroke="#111" stroke-width="1.2"/>
<polygon points="397.8,311.8 401.9,311.8 399.8,308.2" fill="#fff" stroke="#111" stroke-width="1.2"/>
<polygon points="401.8,307.2 405.9,307.2 403.8,303.6" fill="#fff" stroke="#111" stroke-width="1.2"/>
<polygon points="403.3,311.0 407.4,311.0 405.4,307.4" fill="#fff" stroke="#111" stroke-width="1.2"/>
<polygon points="406.4,313.4 410.6,313.4 408.5,309.8" fill="#fff" stroke="#111" stroke-width="1.2"/>
<polygon points="409.4,315.7 413.6,315.7 411.5,312.1" fill="#fff" stroke="#111" stroke-width="1.2"/>
<polygon points="413.3,315.7 417.4,315.7 415.4,312.1" fill="#fff" stroke="#111" stroke-width="1.2"/>
<polygon points="416.1,311.8 420.2,311.8 418.2,308.2" fill="#fff" stroke="#111" stroke-width="1.2"/>
<polygon points="419.4,312.6 423.6,312.6 421.5,309.0" fill="#fff" stroke="#111" stroke-width="1.2"/>
<polygon points="421.8,316.4 425.9,316.4 423.8,312.8" fill="#fff" stroke="#111" stroke-width="1.2"/>
<polygon points="426.4,314.9 430.6,314.9 428.5,311.3" fill="#fff" stroke="#111" stroke-width="1.2"/>
<polygon points="428.8,315.7 432.9,315.7 430.8,312.1" fill="#fff" stroke="#111" stroke-width="1.2"/>
<polygon points="433.3,317.2 437.4,317.2 435.4,313.6" fill="#fff" stroke="#111" stroke-width="1.2"/>
<polygon points="438.8,316.4 442.9,316.4 440.8,312.8" fill="#fff" stroke="#111" stroke-width="1.2"/>
<polygon points="451.8,316.4 455.9,316.4 453.8,312.8" fill="#fff" stroke="#111" stroke-width="1.2"/>
<polygon points="465.1,315.7 469.2,315.7 467.2,312.1" fill="#fff" stroke="#111" stroke-width="1.2"/>
<rect x="337.7" y="228.4" width="4.0" height="4.0" fill="#f6f0e6" stroke="#111" stroke-width="1.3"/>
<rect x="342.5" y="249.8" width="4.0" height="4.0" fill="#f6f0e6" stroke="#111" stroke-width="1.3"/>
<rect x="345.0" y="271.3" width="4.0" height="4.0" fill="#f6f0e6" stroke="#111" stroke-width="1.3"/>
<rect x="348.4" y="281.5" width="4.0" height="4.0" fill="#f6f0e6" stroke="#111" stroke-width="1.3"/>
<rect x="354.3" y="276.9" width="4.0" height="4.0" fill="#f6f0e6" stroke="#111" stroke-width="1.3"/>
<rect x="356.9" y="271.3" width="4.0" height="4.0" fill="#f6f0e6" stroke="#111" stroke-width="1.3"/>
<rect x="363.2" y="271.3" width="4.0" height="4.0" fill="#f6f0e6" stroke="#111" stroke-width="1.3"/>
<rect x="369.3" y="276.9" width="4.0" height="4.0" fill="#f6f0e6" stroke="#111" stroke-width="1.3"/>
<rect x="373.0" y="265.7" width="4.0" height="4.0" fill="#f6f0e6" stroke="#111" stroke-width="1.3"/>
<rect x="377.2" y="276.9" width="4.0" height="4.0" fill="#f6f0e6" stroke="#111" stroke-width="1.3"/>
<rect x="383.5" y="273.8" width="4.0" height="4.0" fill="#f6f0e6" stroke="#111" stroke-width="1.3"/>
<rect x="385.7" y="276.9" width="4.0" height="4.0" fill="#f6f0e6" stroke="#111" stroke-width="1.3"/>
<rect x="391.2" y="273.9" width="4.0" height="4.0" fill="#f6f0e6" stroke="#111" stroke-width="1.3"/>
<rect x="396.2" y="263.8" width="4.0" height="4.0" fill="#f6f0e6" stroke="#111" stroke-width="1.3"/>
<rect x="400.0" y="281.7" width="4.0" height="4.0" fill="#f6f0e6" stroke="#111" stroke-width="1.3"/>
<rect x="402.0" y="292.6" width="4.0" height="4.0" fill="#f6f0e6" stroke="#111" stroke-width="1.3"/>
<rect x="403.0" y="273.6" width="4.0" height="4.0" fill="#f6f0e6" stroke="#111" stroke-width="1.3"/>
<rect x="404.2" y="263.8" width="4.0" height="4.0" fill="#f6f0e6" stroke="#111" stroke-width="1.3"/>
<rect x="406.7" y="270.5" width="4.0" height="4.0" fill="#f6f0e6" stroke="#111" stroke-width="1.3"/>
<rect x="409.3" y="274.4" width="4.0" height="4.0" fill="#f6f0e6" stroke="#111" stroke-width="1.3"/>
<rect x="413.2" y="263.8" width="4.0" height="4.0" fill="#f6f0e6" stroke="#111" stroke-width="1.3"/>
<rect x="416.1" y="258.3" width="4.0" height="4.0" fill="#f6f0e6" stroke="#111" stroke-width="1.3"/>
<rect x="420.3" y="252.9" width="4.0" height="4.0" fill="#f6f0e6" stroke="#111" stroke-width="1.3"/>
<rect x="422.3" y="254.6" width="4.0" height="4.0" fill="#f6f0e6" stroke="#111" stroke-width="1.3"/>
<rect x="427.9" y="265.1" width="4.0" height="4.0" fill="#f6f0e6" stroke="#111" stroke-width="1.3"/>
<rect x="426.2" y="271.6" width="4.0" height="4.0" fill="#f6f0e6" stroke="#111" stroke-width="1.3"/>
<rect x="432.2" y="277.8" width="4.0" height="4.0" fill="#f6f0e6" stroke="#111" stroke-width="1.3"/>
<rect x="434.7" y="275.6" width="4.0" height="4.0" fill="#f6f0e6" stroke="#111" stroke-width="1.3"/>
<rect x="438.9" y="274.9" width="4.0" height="4.0" fill="#f6f0e6" stroke="#111" stroke-width="1.3"/>
<rect x="452.2" y="268.3" width="4.0" height="4.0" fill="#f6f0e6" stroke="#111" stroke-width="1.3"/>
<rect x="465.7" y="260.4" width="4.0" height="4.0" fill="#f6f0e6" stroke="#111" stroke-width="1.3"/>
<text x="438.7" y="264.9" font-size="7.8" font-weight="normal" fill="#444" text-anchor="start" textLength="11.1" lengthAdjust="spacingAndGlyphs" >FIX</text>
<text x="449.6" y="305.8" font-size="8" font-weight="normal" fill="#3a3a3a" text-anchor="start" textLength="13.2" lengthAdjust="spacingAndGlyphs" >ALT</text>
</svg>
</body></html>
